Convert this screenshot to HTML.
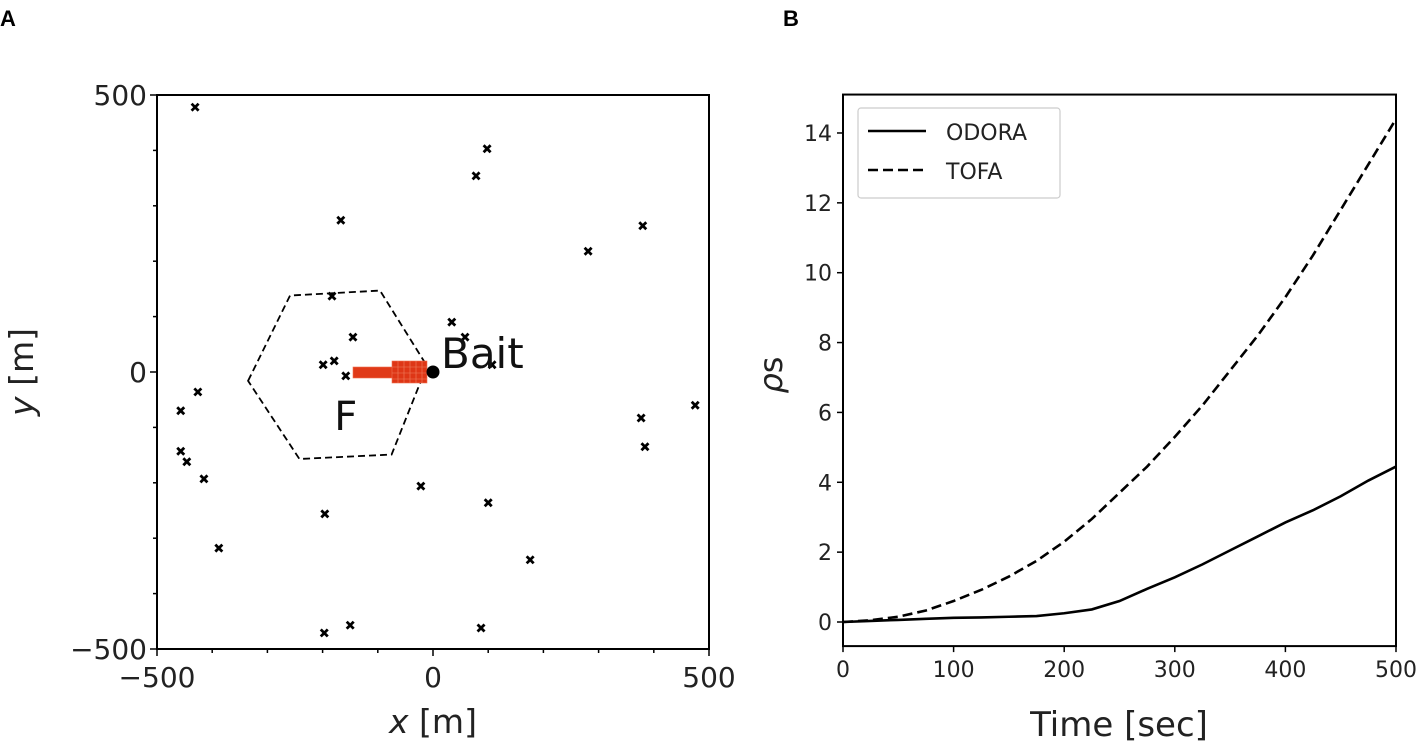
<!DOCTYPE html>
<html><head><meta charset="utf-8"><style>
html,body{margin:0;padding:0;background:#fff;width:1418px;height:746px;overflow:hidden}
svg{display:block;font-family:"DejaVu Sans","Liberation Sans",sans-serif}
</style></head><body>
<svg id="chart" width="1418" height="746" viewBox="0 0 1418 746">
<text x="0" y="26" font-size="22" font-weight="bold" font-family="Liberation Sans, sans-serif">A</text>
<text x="783" y="26" font-size="22" font-weight="bold" font-family="Liberation Sans, sans-serif">B</text>
<g id="pa"></g>
<g id="pb"></g>
</svg>
<script>
// Panel A data
const trapX = [-431,98,78,-167,380,281,-183,34,-145,58,107,-199,-179,-158,-426,-457,377,475,-457,-446,384,-415,-22,100,-388,-196,176,-150,-197,87];
const trapY = [478,403,354,274,264,218,137,90,63,63,13,13,20,-7,-36,-70,-83,-60,-143,-162,-135,-193,-206,-236,-318,-256,-339,-457,-471,-462];
const hexX = [-335,-259,-96,-11,-75,-242];
const hexY = [-16,138,147,11,-149,-157];
const aTicks = [-500,0,500];
// Panel B data
const timeX = [0,25,50,75,100,125,150,175,200,225,250,275,300,325,350,375,400,425,450,475,500];
const odora = [0,0.03,0.06,0.09,0.12,0.13,0.15,0.17,0.25,0.36,0.6,0.95,1.28,1.65,2.05,2.45,2.85,3.2,3.6,4.05,4.45];
const tofa = [0,0.05,0.15,0.33,0.6,0.92,1.3,1.75,2.3,2.95,3.7,4.45,5.3,6.2,7.2,8.2,9.3,10.5,11.8,13.1,14.4];
const bXTicks = [0,100,200,300,400,500];
const bYTicks = [0,2,4,6,8,10,12,14];

const NS="http://www.w3.org/2000/svg";
function mk(parent,tag,attrs,text){const e=document.createElementNS(NS,tag);for(const k in attrs)e.setAttribute(k,attrs[k]);if(text!==undefined)e.textContent=text;parent.appendChild(e);return e;}

// Panel A
const pa=document.getElementById('pa');
const ax=v=>433+v*0.552, ay=v=>372-v*0.554;
let e=mk(pa,'rect',{x:ax(-500),y:ay(500),width:ax(500)-ax(-500),height:ay(-500)-ay(500),fill:'none',stroke:'#000','stroke-width':2});

for(let v=-500;v<=500;v+=100){const big=v%500===0;
 e=mk(pa,'line',{x1:ax(v),x2:ax(v),y1:ay(-500),y2:ay(-500)+(big?7:4),stroke:'#000','stroke-width':1.5});
 
 e=mk(pa,'line',{x1:ax(-500)-(big?7:4),x2:ax(-500),y1:ay(v),y2:ay(v),stroke:'#000','stroke-width':1.5});
 }
aTicks.forEach(v=>{const lab=v<0?'\u2212'+(-v):String(v);
 e=mk(pa,'text',{x:ax(v),y:ay(-500)+38,'font-size':28,'text-anchor':'middle',fill:'#222'},lab);
 
 e=mk(pa,'text',{x:ax(-500)-10,y:ay(v)+10,'font-size':28,'text-anchor':'end',fill:'#222'},lab);
 });
e=mk(pa,'text',{x:433,y:733,'font-size':33,'text-anchor':'middle',fill:'#222'});
e.innerHTML='<tspan font-style="italic">x</tspan> [m]';

e=mk(pa,'text',{x:0,y:0,'font-size':33,'text-anchor':'middle',fill:'#222',transform:'translate(33,372) rotate(-90)'});
e.innerHTML='<tspan font-style="italic">y</tspan> [m]';

// hexagon
e=mk(pa,'polygon',{points:hexX.map((x,i)=>ax(x)+','+ay(hexY[i])).join(' '),fill:'none',stroke:'#000','stroke-width':1.8,'stroke-dasharray':'7,4'});

e=mk(pa,'text',{x:ax(-158),y:ay(-105),'font-size':40,'text-anchor':'middle',fill:'#111'},'F');

// traps
trapX.forEach((x,i)=>{const cx=ax(x),cy=ay(trapY[i]);
 e=mk(pa,'path',{d:`M${cx-3.5},${cy-3.5}L${cx+3.5},${cy+3.5}M${cx-3.5},${cy+3.5}L${cx+3.5},${cy-3.5}`,stroke:'#000','stroke-width':2.8});
 });
// red trail
e=mk(pa,'rect',{x:353,y:367,width:42,height:11,fill:'#e03a18',stroke:'#f07050','stroke-width':0.6});

e=mk(pa,'rect',{x:392,y:361,width:35,height:22,fill:'#de3616',stroke:'#f07050','stroke-width':0.6});

for(let x=398;x<427;x+=6){mk(pa,'line',{x1:x,x2:x,y1:361,y2:383,stroke:'#f08060','stroke-width':0.6});}
for(let y=367;y<383;y+=6){mk(pa,'line',{x1:392,x2:427,y1:y,y2:y,stroke:'#f08060','stroke-width':0.6});}
e=mk(pa,'circle',{cx:ax(0),cy:ay(0),r:6.5,fill:'#000'});

e=mk(pa,'text',{x:441,y:368,'font-size':42,fill:'#111'},'Bait');


// Panel B
const pb=document.getElementById('pb');
const bx=v=>843+v*1.106, by=v=>622-v*34.93;
e=mk(pb,'rect',{x:bx(0),y:by(15.1),width:bx(500)-bx(0),height:by(-0.69)-by(15.1),fill:'none',stroke:'#000','stroke-width':2});

bXTicks.forEach(v=>{
 e=mk(pb,'line',{x1:bx(v),x2:bx(v),y1:by(-0.69),y2:by(-0.69)+6,stroke:'#000','stroke-width':1.5});
 
 e=mk(pb,'text',{x:bx(v),y:by(-0.69)+31,'font-size':22,'text-anchor':'middle',fill:'#222'},String(v));
 });
bYTicks.forEach(v=>{
 e=mk(pb,'line',{x1:bx(0)-6,x2:bx(0),y1:by(v),y2:by(v),stroke:'#000','stroke-width':1.5});
 
 e=mk(pb,'text',{x:bx(0)-11,y:by(v)+8,'font-size':22,'text-anchor':'end',fill:'#222'},String(v));
 });
e=mk(pb,'text',{x:1119,y:736,'font-size':34,'text-anchor':'middle',fill:'#222'},'Time [sec]');

e=mk(pb,'text',{x:0,y:0,'font-size':32,'text-anchor':'middle',fill:'#222',transform:'translate(782,375) rotate(-90)'});
e.innerHTML='<tspan font-style="italic">ρ</tspan>s';

e=mk(pb,'polyline',{points:timeX.map((t,i)=>bx(t)+','+by(tofa[i])).join(' '),fill:'none',stroke:'#000','stroke-width':2.6,'stroke-dasharray':'10,5'});

e=mk(pb,'polyline',{points:timeX.map((t,i)=>bx(t)+','+by(odora[i])).join(' '),fill:'none',stroke:'#000','stroke-width':2.6});

// legend
const lg=mk(pb,'g',{});

mk(lg,'rect',{x:858,y:108,width:202,height:90,rx:3,fill:'#fff',stroke:'#ccc','stroke-width':1.2});
e=mk(lg,'line',{x1:868,x2:926,y1:131,y2:131,stroke:'#000','stroke-width':2.6});

e=mk(lg,'text',{x:946,y:140,'font-size':22,fill:'#222'},'ODORA');

e=mk(lg,'line',{x1:868,x2:926,y1:170,y2:170,stroke:'#000','stroke-width':2.6,'stroke-dasharray':'10,5'});

e=mk(lg,'text',{x:946,y:179,'font-size':22,fill:'#222'},'TOFA');

</script>
</body></html>
